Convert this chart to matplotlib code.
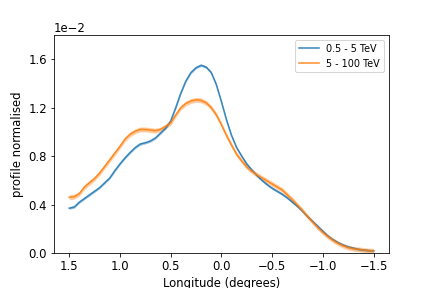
import numpy as np
import matplotlib
matplotlib.use("Agg")
import matplotlib.pyplot as plt

plt.rcParams["font.size"] = 11.6

# longitude grid (degrees) and profiles in units of 1e-2
longitude = np.round(np.arange(1.5, -1.5001, -0.05), 2)

profile_low = [
    0.37, 0.38, 0.42, 0.45, 0.48, 0.51, 0.54, 0.58, 0.62, 0.68,
    0.735, 0.785, 0.83, 0.87, 0.90, 0.91, 0.925, 0.95, 0.99, 1.03,
    1.09, 1.20, 1.32, 1.42, 1.49, 1.53, 1.55, 1.535, 1.49, 1.39,
    1.25, 1.10, 0.97, 0.87, 0.80, 0.735, 0.685, 0.64, 0.60, 0.565,
    0.535, 0.51, 0.485, 0.455, 0.42, 0.385, 0.345, 0.30, 0.26, 0.22,
    0.18, 0.14, 0.11, 0.085, 0.065, 0.05, 0.04, 0.03, 0.025, 0.02,
    0.018,
]
profile_high = [
    0.46, 0.465, 0.49, 0.545, 0.58, 0.615, 0.66, 0.715, 0.77, 0.825,
    0.88, 0.94, 0.98, 1.005, 1.02, 1.02, 1.015, 1.01, 1.02, 1.045,
    1.075, 1.14, 1.20, 1.235, 1.255, 1.265, 1.26, 1.24, 1.20, 1.14,
    1.06, 0.97, 0.89, 0.815, 0.76, 0.71, 0.675, 0.645, 0.62, 0.595,
    0.57, 0.545, 0.52, 0.48, 0.44, 0.395, 0.35, 0.30, 0.255, 0.21,
    0.17, 0.135, 0.105, 0.08, 0.06, 0.045, 0.035, 0.03, 0.025, 0.02,
    0.018,
]
err_low = 0.01
err_high = 0.02
labels = ["0.5 - 5 TeV", "5 - 100 TeV"]
SCALE = 1e-2

fig = plt.figure(figsize=(6, 4), dpi=72)
ax = fig.add_axes([0.125, 0.1215, 0.775, 0.757])

for prof, err, color, lab in [
    (profile_low, err_low, "C0", labels[0]),
    (profile_high, err_high, "C1", labels[1]),
]:
    y = np.array(prof) * SCALE
    ax.fill_between(longitude, y - err * SCALE, y + err * SCALE, color=color, alpha=0.4, lw=0)
    ax.plot(longitude, y, color=color, lw=1.6, alpha=0.85, label=lab)

ax.set_xlim(1.65, -1.65)
ax.set_ylim(0, 0.018)
ax.set_yticks([0, 0.004, 0.008, 0.012, 0.016])
ax.ticklabel_format(axis="y", style="sci", scilimits=(-2, -2))
ax.set_xlabel("Longitude (degrees)")
ax.set_ylabel("profile normalised")
ax.legend(loc="upper right", fontsize="small")

fig.savefig("out.png", dpi=72)
